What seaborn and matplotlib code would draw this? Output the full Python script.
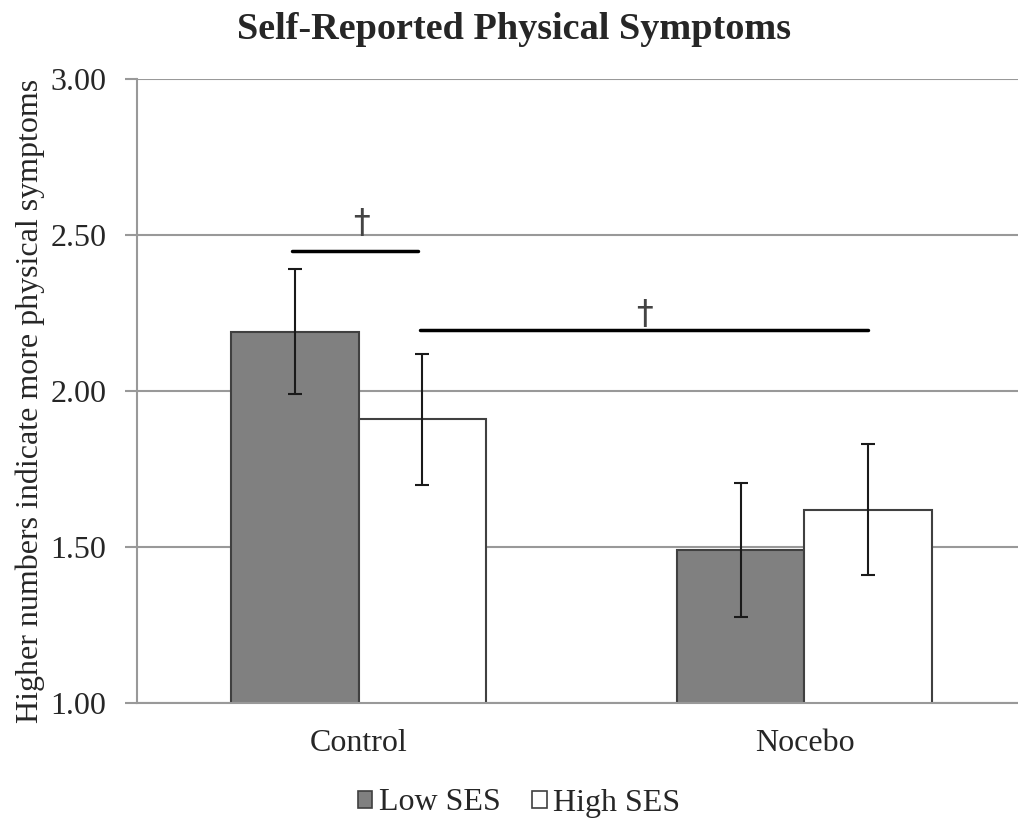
import matplotlib
matplotlib.use("Agg")
import matplotlib.pyplot as plt
import seaborn as sns
import pandas as pd
import numpy as np
from matplotlib.patches import Patch

conditions = ["Control", "Nocebo"]
groups = ["Low SES", "High SES"]
low_ses = [2.19, 1.49]
high_ses = [1.91, 1.62]
low_err = [0.20, 0.215]
high_err = [0.21, 0.21]
yticks = [1.00, 1.50, 2.00, 2.50, 3.00]

# significance annotations: (x_start, x_end, y)
sig_lines = [(-0.149, 0.134, 2.45), (0.138, 1.142, 2.195)]
sig_marks = [(0.006, 2.538), (0.642, 2.244)]

df = pd.DataFrame({
    "Condition": conditions * 2,
    "SES": [groups[0]] * 2 + [groups[1]] * 2,
    "Score": low_ses + high_ses,
    "Err": low_err + high_err,
})

sns.set_style("white")
plt.rcParams["font.family"] = ["Liberation Serif", "DejaVu Serif"]
FS = 23

fig = plt.figure(figsize=(10.18, 8.18), dpi=100)
ax = fig.add_axes([137 / 1018, 1 - 703 / 818, 1 - 137 / 1018, (703 - 79) / 818])

palette = {"Low SES": "#808080", "High SES": "#ffffff"}
sns.barplot(data=df, x="Condition", y="Score", hue="SES", order=conditions,
            hue_order=groups, palette=palette, errorbar=None, width=0.572,
            edgecolor="#404040", linewidth=1.5, ax=ax, legend=False, zorder=3)

# error bars from bar geometry
for patch, (_, row) in zip(ax.patches, df.iterrows()):
    xc = patch.get_x() + patch.get_width() / 2
    ax.errorbar(xc, patch.get_y() + patch.get_height(), yerr=row["Err"],
                fmt="none", ecolor="#1a1a1a", elinewidth=1.5, capsize=5,
                capthick=1.5, zorder=4)

ax.set_yticks(yticks)
ax.set_yticklabels([f"{v:.2f}" for v in yticks], fontsize=FS)
ax.yaxis.grid(True, color="#999999", linewidth=1.5, zorder=0)
ax.set_axisbelow(True)

ax.set_xticks([0, 1])
ax.set_xticklabels(conditions, fontsize=FS)
ax.set_xticks([0.5], minor=True)
ax.set_ylim(1.0, 3.0)
ax.set_xlim(-0.497, 1.479)
ax.tick_params(axis="x", which="major", length=0, pad=19)
ax.tick_params(axis="x", which="minor", length=9, width=1.5, color="#999999")
ax.tick_params(axis="y", which="major", length=9, width=1.5, color="#999999",
               left=True, pad=13)

for s in ["top", "right"]:
    ax.spines[s].set_visible(False)
for s in ["left", "bottom"]:
    ax.spines[s].set_color("#999999")
    ax.spines[s].set_linewidth(1.5)
ax.spines["bottom"].set_zorder(5)

ax.set_xlabel("")
ax.set_ylabel("Higher numbers indicate more physical symptoms", fontsize=FS)
ax.yaxis.set_label_coords(-0.104, 0.484)

for x0, x1, y in sig_lines:
    ax.plot([x0, x1], [y, y], color="black", linewidth=2.5, zorder=5)
for x, y in sig_marks:
    ax.text(x, y, "\u2020", ha="center", va="center", fontsize=24,
            color="#444444", zorder=5, family="DejaVu Sans")

fig.suptitle("Self-Reported Physical Symptoms", fontsize=27.5, fontweight="bold",
             x=0.505, y=0.985, va="top")

handles = [Patch(facecolor=palette[g], edgecolor="#404040", linewidth=1.2, label=g)
           for g in groups]
fig.legend(handles=handles, loc="center", bbox_to_anchor=(0.51, 1 - 803 / 818),
           ncol=2, frameon=False, fontsize=FS, handlelength=0.45,
           handleheight=0.45, handletextpad=0.2, columnspacing=1.0)

fig.savefig("out.png", dpi=100)
